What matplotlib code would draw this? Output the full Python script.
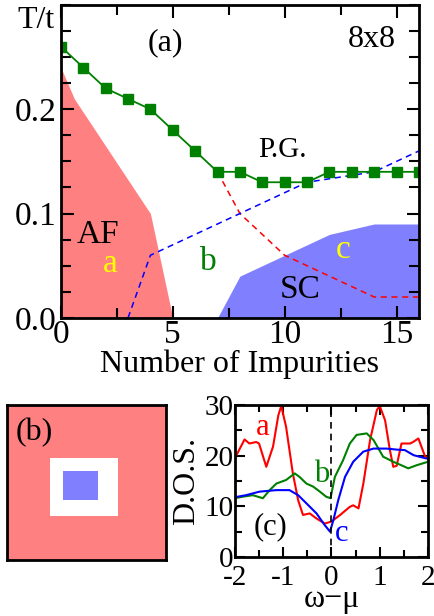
import matplotlib
matplotlib.use("Agg")
import matplotlib.pyplot as plt
from matplotlib.patches import Rectangle
from matplotlib.ticker import MultipleLocator

plt.rcParams['font.family'] = ['Liberation Serif', 'DejaVu Serif']
plt.rcParams['axes.unicode_minus'] = False

# ---- panel (a): phase diagram ----
n_imp = list(range(17))
t_pg = [0.26, 0.24, 0.22, 0.21, 0.20, 0.18, 0.16, 0.14, 0.14, 0.13, 0.13, 0.13,
        0.14, 0.14, 0.14, 0.14, 0.14]

af_x = [0, 0.6, 4, 5]
af_t = [0.24, 0.21, 0.10, 0.0]

sc_x = [7, 8, 10, 12, 14, 16]
sc_t = [0.0, 0.04, 0.06, 0.08, 0.09, 0.09]

red_dash_x = [7, 8, 10, 14, 16]
red_dash_t = [0.14, 0.10, 0.06, 0.02, 0.02]

blue_dash_x = [3, 4, 11, 14, 16]
blue_dash_t = [0.0, 0.06, 0.13, 0.14, 0.16]

# ---- panel (c): density of states ----
w_a = [-2.0, -1.8, -1.7, -1.56, -1.5, -1.35, -1.21, -1.1, -1.04, -0.94, -0.8, -0.69,
       -0.59, -0.45, -0.31, -0.14, 0.0, 0.18, 0.38, 0.45, 0.56, 0.66, 0.8, 0.94,
       1.0, 1.11, 1.21, 1.28, 1.35, 1.45, 1.63, 1.69, 1.8, 1.94, 2.0]
dos_a = [19.5, 23.2, 22.4, 22.7, 22.4, 17.8, 21.8, 28.0, 29.8, 25.7, 16.5, 11.2,
         8.3, 8.6, 7.6, 6.6, 7.0, 8.3, 9.9, 10.2, 9.6, 14.5, 23.1, 29.0,
         29.8, 27.0, 21.1, 17.8, 18.0, 22.4, 22.4, 22.7, 23.4, 19.8, 19.5]

w_b = [-2.0, -1.84, -1.63, -1.42, -1.28, -1.14, -0.94, -0.76, -0.66, -0.52, -0.38,
       -0.24, -0.11, -0.02, 0.07, 0.24, 0.38, 0.52, 0.73, 0.87, 1.07, 1.28, 1.45,
       1.59, 1.76, 2.0]
dos_b = [11.6, 11.9, 12.2, 11.6, 13.2, 14.5, 15.2, 16.5, 15.8, 14.5, 13.9,
         12.9, 11.9, 11.6, 15.8, 19.1, 22.4, 24.1, 24.4, 23.1, 19.8, 18.8, 18.1,
         17.5, 18.1, 18.8]

w_c = [-2.0, -1.77, -1.49, -1.14, -0.87, -0.69, -0.52, -0.31, -0.14, -0.03, 0.04,
       0.14, 0.28, 0.45, 0.66, 0.87, 1.14, 1.35, 1.52, 1.7, 1.94, 2.0]
dos_c = [11.8, 12.2, 12.9, 13.2, 13.2, 12.2, 10.6, 8.6, 6.3, 5.0, 7.3,
         11.2, 15.8, 18.8, 20.8, 21.4, 21.4, 21.2, 21.1, 20.1, 19.5, 19.4]

GREEN = '#008000'
RED = '#ff8080'
BLUE = '#8080ff'

fig = plt.figure(figsize=(4.35, 6.16), dpi=100)

# panel (a)
ax = fig.add_axes([0.140, 0.484, 0.823, 0.508])
ax.fill_between(af_x, af_t, 0, color=RED, lw=0)
ax.fill_between(sc_x, sc_t, 0, color=BLUE, lw=0)
ax.plot(red_dash_x, red_dash_t, color='red', ls=(0, (4, 3)), lw=1.1)
ax.plot(blue_dash_x, blue_dash_t, color='blue', ls=(0, (4, 3)), lw=1.1)
ax.plot(n_imp, t_pg, color=GREEN, lw=1.3, marker='s', ms=7, mfc=GREEN, mec=GREEN)
ax.set_xlim(0, 16)
ax.set_ylim(0, 0.3)
ax.set_xticks([0, 5, 10, 15])
ax.set_yticks([0.0, 0.1, 0.2])
ax.set_yticklabels(['0.0', '0.1', '0.2'])
ax.xaxis.set_minor_locator(MultipleLocator(2.5))
ax.yaxis.set_minor_locator(MultipleLocator(0.025))
ax.tick_params(which='both', direction='in', top=True, right=True, width=1.5,
               labelsize=24)
ax.tick_params(which='major', length=9)
ax.tick_params(which='minor', length=7)
ax.tick_params(axis='x', pad=1)
ax.tick_params(axis='y', pad=3)
for s in ax.spines.values():
    s.set_linewidth(2)
ax.set_xlabel('Number of Impurities', fontsize=23, labelpad=0)
fig.text(36 / 435, 1 - 20 / 616, 'T/t', fontsize=23, ha='center', va='center')
ax.text(4.65, 0.264, '(a)', fontsize=23, ha='center', va='center')
ax.text(13.9, 0.267, '8x8', fontsize=23, ha='center', va='center')
ax.text(9.9, 0.161, 'P.G.', fontsize=21, ha='center', va='center')
ax.text(1.65, 0.080, 'AF', fontsize=24, ha='center', va='center')
ax.text(2.2, 0.052, 'a', fontsize=24, color='yellow', ha='center', va='center')
ax.text(6.6, 0.054, 'b', fontsize=24, color=GREEN, ha='center', va='center')
ax.text(12.6, 0.065, 'c', fontsize=24, color='yellow', ha='center', va='center')
ax.text(10.7, 0.027, 'SC', fontsize=24, ha='center', va='center')

# panel (b)
axb = fig.add_axes([0.016, 0.091, 0.366, 0.2515])
axb.set_facecolor(RED)
axb.add_patch(Rectangle((0.27, 0.284), 0.43, 0.376, transform=axb.transAxes,
                        color='white', lw=0))
axb.add_patch(Rectangle((0.352, 0.387), 0.22, 0.187, transform=axb.transAxes,
                        color=BLUE, lw=0))
axb.set_xticks([])
axb.set_yticks([])
for s in axb.spines.values():
    s.set_linewidth(2)
axb.text(0.17, 0.82, '(b)', transform=axb.transAxes, fontsize=23,
         ha='center', va='center')

# panel (c)
axc = fig.add_axes([0.540, 0.0958, 0.444, 0.2467])
axc.plot(w_a, dos_a, color='red', lw=1.5)
axc.plot(w_b, dos_b, color=GREEN, lw=1.5)
axc.plot(w_c, dos_c, color='blue', lw=1.5)
axc.axvline(0, color='black', ls=(0, (4, 3)), lw=1.2)
axc.set_xlim(-2, 2)
axc.set_ylim(0, 30)
axc.set_xticks([-2, -1, 0, 1, 2])
axc.set_yticks([0, 10, 20, 30])
axc.xaxis.set_minor_locator(MultipleLocator(0.5))
axc.yaxis.set_minor_locator(MultipleLocator(5))
axc.tick_params(which='both', direction='in', top=True, right=True, width=1.5,
                labelsize=21)
axc.tick_params(which='major', length=7)
axc.tick_params(which='minor', length=5)
axc.tick_params(axis='x', pad=6)
axc.tick_params(axis='y', pad=1)
for s in axc.spines.values():
    s.set_linewidth(2)
axc.text(-0.249, 0.5, 'D.O.S.', transform=axc.transAxes, rotation=90,
         fontsize=23, ha='center', va='center')
axc.text(0.5, -0.28, 'ω−μ', transform=axc.transAxes, fontsize=23,
         ha='center', va='center')
axc.text(-1.42, 25.6, 'a', fontsize=22, color='red', ha='center', va='center')
axc.text(-0.2, 16.2, 'b', fontsize=22, color=GREEN, ha='center', va='center')
axc.text(0.22, 4.7, 'c', fontsize=22, color='blue', ha='center', va='center')
axc.text(-1.27, 5.9, '(c)', fontsize=22, ha='center', va='center')

fig.savefig('out.png', dpi=100)
